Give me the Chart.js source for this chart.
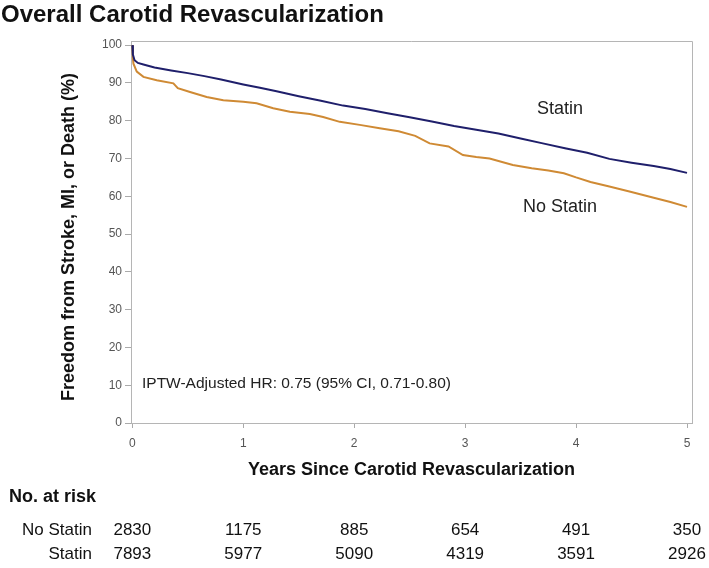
<!DOCTYPE html>
<html>
<head>
<meta charset="utf-8">
<script src="https://cdn.jsdelivr.net/npm/chart.js@4/dist/chart.umd.min.js"></script>
<style>
  html, body { margin: 0; padding: 0; background: #fff; }
  #wrap { width: 709px; height: 568px; }
</style>
</head>
<body>
<div id="wrap"><canvas id="km" width="709" height="568"></canvas></div>
<script>
// survival curves (years, % event free)
var statinTime = [0, 0.005, 0.02, 0.05, 0.1, 0.2, 0.35, 0.5, 0.65, 0.8, 1.0, 1.15, 1.3, 1.5, 1.7, 1.9, 2.1, 2.3, 2.5, 2.7, 2.9, 3.1, 3.3, 3.5, 3.7, 3.9, 4.1, 4.3, 4.5, 4.7, 4.85, 5.0];
var statinPct = [100, 97.5, 96.0, 95.3, 94.9, 94.1, 93.3, 92.6, 91.8, 90.9, 89.6, 88.7, 87.8, 86.5, 85.3, 84.0, 83.1, 82.0, 80.9, 79.8, 78.6, 77.6, 76.6, 75.3, 74.0, 72.7, 71.5, 69.9, 68.9, 68.0, 67.2, 66.2];
var noStatinTime = [0, 0.005, 0.01, 0.04, 0.1, 0.22, 0.37, 0.41, 0.52, 0.67, 0.82, 1.0, 1.12, 1.27, 1.42, 1.6, 1.72, 1.87, 2.05, 2.23, 2.4, 2.55, 2.68, 2.85, 2.98, 3.1, 3.22, 3.43, 3.6, 3.75, 3.89, 4.0, 4.13, 4.3, 4.49, 4.7, 4.85, 5.0];
var noStatinPct = [100, 96.5, 95.1, 93.0, 91.6, 90.7, 89.9, 88.6, 87.6, 86.3, 85.4, 85.0, 84.6, 83.3, 82.4, 81.8, 81.0, 79.7, 78.9, 78.0, 77.2, 76.0, 74.0, 73.2, 70.9, 70.4, 70.0, 68.3, 67.4, 66.8, 66.1, 65.0, 63.8, 62.6, 61.2, 59.6, 58.5, 57.2];

var xTicks = [0, 1, 2, 3, 4, 5];
var yTicks = [0, 10, 20, 30, 40, 50, 60, 70, 80, 90, 100];

// number at risk table
var riskGroups = ['No Statin', 'Statin'];
var riskNoStatin = [2830, 1175, 885, 654, 491, 350];
var riskStatin = [7893, 5977, 5090, 4319, 3591, 2926];

function toXY(t, v) {
  var out = [];
  for (var i = 0; i < t.length; i++) out.push({x: t[i], y: v[i]});
  return out;
}

var sans = '"Liberation Sans", Arial, sans-serif';

var extras = {
  id: 'extras',
  afterDraw: function(chart) {
    var ctx = chart.ctx, a = chart.chartArea;
    var xs = chart.scales.x;
    ctx.save();
    // top + right frame
    ctx.strokeStyle = '#b5b5b5';
    ctx.lineWidth = 1;
    ctx.beginPath();
    ctx.moveTo(a.left, a.top + 0.5);
    ctx.lineTo(a.right + 0.5, a.top + 0.5);
    ctx.lineTo(a.right + 0.5, a.bottom);
    ctx.stroke();

    ctx.fillStyle = '#111';
    ctx.font = 'bold 24px ' + sans;
    ctx.textAlign = 'left';
    ctx.textBaseline = 'middle';
    ctx.fillText('Overall Carotid Revascularization', 1, 15);

    // y axis title
    ctx.save();
    ctx.translate(69, 237);
    ctx.rotate(-Math.PI / 2);
    ctx.textAlign = 'center';
    ctx.font = 'bold 18px ' + sans;
    ctx.fillText('Freedom from Stroke, MI, or Death (%)', 0, 0);
    ctx.restore();

    ctx.textAlign = 'center';
    ctx.font = 'bold 18px ' + sans;
    ctx.fillText('Years Since Carotid Revascularization', (a.left + a.right) / 2, 470);

    // curve labels + HR
    ctx.font = '18px ' + sans;
    ctx.fillStyle = '#222';
    ctx.fillText('Statin', 560, 109);
    ctx.fillText('No Statin', 560, 207);
    ctx.textAlign = 'left';
    ctx.font = '15.5px ' + sans;
    ctx.fillText('IPTW-Adjusted HR: 0.75 (95% CI, 0.71-0.80)', 142, 384);

    // risk table
    ctx.fillStyle = '#111';
    ctx.font = 'bold 18px ' + sans;
    ctx.fillText('No. at risk', 9, 497);
    ctx.font = '17px ' + sans;
    ctx.textAlign = 'right';
    ctx.fillText(riskGroups[0], 92, 530);
    ctx.fillText(riskGroups[1], 92, 554);
    ctx.textAlign = 'center';
    for (var i = 0; i < xTicks.length; i++) {
      var px = xs.getPixelForValue(xTicks[i]);
      ctx.fillText(String(riskNoStatin[i]), px, 530);
      ctx.fillText(String(riskStatin[i]), px, 554);
    }
    ctx.restore();
  }
};

var ctx = document.getElementById('km').getContext('2d');
var chart = new Chart(ctx, {
  type: 'line',
  data: {
    datasets: [{
      label: 'Statin',
      data: toXY(statinTime, statinPct),
      borderColor: '#1f1f6b',
      borderWidth: 2,
      pointRadius: 0,
      fill: false
    }, {
      label: 'No Statin',
      data: toXY(noStatinTime, noStatinPct),
      borderColor: '#cf8a34',
      borderWidth: 2,
      pointRadius: 0,
      fill: false
    }]
  },
  options: {
    responsive: false,
    animation: false,
    layout: { padding: { left: 0, top: 41, right: 17, bottom: 115 } },
    plugins: { legend: { display: false }, tooltip: { enabled: false } },
    scales: {
      x: {
        type: 'linear',
        min: -0.012,
        max: 5.045,
        afterBuildTicks: function(s) { s.ticks = xTicks.map(function(v) { return {value: v}; }); },
        afterFit: function(s) { s.height = 30; },
        grid: { drawOnChartArea: false, drawTicks: true, tickLength: 5, color: '#aaa' },
        border: { display: true, color: '#b5b5b5' },
        ticks: { color: '#555', font: { family: sans, size: 12 }, padding: 8, maxRotation: 0 }
      },
      y: {
        min: 0,
        max: 101.1,
        afterBuildTicks: function(s) { s.ticks = yTicks.map(function(v) { return {value: v}; }); },
        afterFit: function(s) { s.width = 131; },
        grid: { drawOnChartArea: false, drawTicks: true, tickLength: 6, color: '#aaa' },
        border: { display: true, color: '#b5b5b5' },
        ticks: { color: '#555', font: { family: sans, size: 12 }, padding: 3 }
      }
    }
  },
  plugins: [extras]
});
</script>
</body>
</html>
